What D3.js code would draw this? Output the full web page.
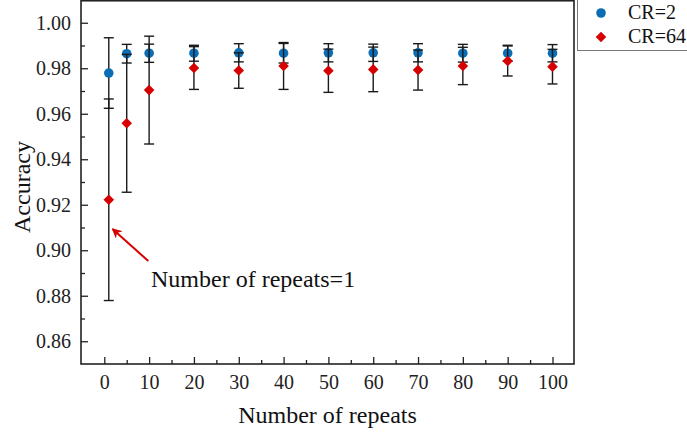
<!DOCTYPE html>
<html>
<head>
<meta charset="utf-8">
<script src="https://cdn.jsdelivr.net/npm/d3@7"></script>
<style>
  body { margin: 0; background: #fff; }
  svg { display: block; }
  svg text { font-family: "Liberation Serif", "Times New Roman", serif; }
</style>
</head>
<body>
<svg id="chart" width="687" height="436"></svg>
<script>
const repeats = [1, 5, 10, 20, 30, 40, 50, 60, 70, 80, 90, 100]
const cr2 = [0.9779, 0.9864, 0.9866, 0.9866, 0.9868, 0.9866, 0.9868, 0.9868, 0.9868, 0.9866, 0.9866, 0.9866]
const cr2Err = [0.0155, 0.0041, 0.0040, 0.0035, 0.0040, 0.0043, 0.0040, 0.0038, 0.0040, 0.0039, 0.0035, 0.0038]
const cr64 = [0.9222, 0.9558, 0.9704, 0.9801, 0.9790, 0.9810, 0.9789, 0.9795, 0.9792, 0.9810, 0.9832, 0.9807]
const cr64Err = [0.0443, 0.0303, 0.0237, 0.0094, 0.0078, 0.0103, 0.0095, 0.0098, 0.0088, 0.0082, 0.0066, 0.0076]
const xTicks = [0, 10, 20, 30, 40, 50, 60, 70, 80, 90, 100]
const yTicks = [0.86, 0.88, 0.90, 0.92, 0.94, 0.96, 0.98, 1.00]
const seriesNames = ['CR=2', 'CR=64']

const margin = { top: 0, right: 113, bottom: 72, left: 81 }
const width = 687 - margin.left - margin.right
const height = 436 - margin.top - margin.bottom
const blue = '#0b6db3'
const red = '#d60000'

const svg = d3.select('#chart')
const g = svg.append('g').attr('transform', `translate(${margin.left},${margin.top})`)

const x = d3.scaleLinear().domain([-5.2, 104.8]).range([0, width])
const y = d3.scaleLinear().domain([0.85, 1.01]).range([height, 0])

// axes, ticks inward
const xAxis = d3.axisBottom(x).tickValues(xTicks).tickSizeInner(-7).tickSizeOuter(0).tickPadding(11)
const xMinor = d3.axisBottom(x).tickValues(d3.range(5, 105, 10)).tickSize(-4).tickFormat('')
const yAxis = d3.axisLeft(y).tickValues(yTicks).tickFormat(d3.format('.2f')).tickSizeInner(-7).tickSizeOuter(0).tickPadding(10)
const yMinor = d3.axisLeft(y).tickValues([0.87, 0.89, 0.91, 0.93, 0.95, 0.97, 0.99]).tickSize(-4).tickFormat('')

function styleAxis(sel) {
  sel.attr('font-family', null).attr('font-size', null)
  sel.select('.domain').remove()
  sel.selectAll('line').attr('stroke', '#222').attr('stroke-width', 1.3)
  sel.selectAll('text').attr('fill', '#222').style('font-size', '20px')
}

g.append('g').attr('transform', `translate(0,${height})`).call(xAxis).call(styleAxis)
g.append('g').attr('transform', `translate(0,${height})`).call(xMinor).call(styleAxis)
g.append('g').call(yAxis).call(styleAxis)
g.append('g').call(yMinor).call(styleAxis)

// frame
g.append('rect')
  .attr('x', 0).attr('y', 0.75)
  .attr('width', width).attr('height', height - 0.75)
  .attr('fill', 'none').attr('stroke', '#222').attr('stroke-width', 1.6)

function drawSeries(vals, errs, color, shape) {
  const data = repeats.map((r, i) => ({ r, v: vals[i], e: errs[i] }))
  const eb = g.append('g').attr('stroke', '#1a1a1a').attr('stroke-width', 1.4)
  data.forEach(d => {
    const cx = x(d.r)
    eb.append('line').attr('x1', cx).attr('x2', cx).attr('y1', y(d.v - d.e)).attr('y2', y(d.v + d.e))
    eb.append('line').attr('x1', cx - 5).attr('x2', cx + 5).attr('y1', y(d.v - d.e)).attr('y2', y(d.v - d.e))
    eb.append('line').attr('x1', cx - 5).attr('x2', cx + 5).attr('y1', y(d.v + d.e)).attr('y2', y(d.v + d.e))
  })
  g.append('g').selectAll('path')
    .data(data)
    .enter().append('path')
      .attr('d', d3.symbol().type(shape).size(shape === d3.symbolCircle ? 72 : 56))
      .attr('transform', d => `translate(${x(d.r)},${y(d.v)})` + (shape === d3.symbolSquare ? ' rotate(45)' : ''))
      .attr('fill', color)
}

drawSeries(cr2, cr2Err, blue, d3.symbolCircle)
drawSeries(cr64, cr64Err, red, d3.symbolSquare)

// annotation
svg.append('defs').append('marker')
  .attr('id', 'arrow').attr('viewBox', '0 0 10 10')
  .attr('refX', 9).attr('refY', 5)
  .attr('markerWidth', 5).attr('markerHeight', 5)
  .attr('orient', 'auto')
  .append('path').attr('d', 'M0,0 L10,5 L0,10 L3,5 Z').attr('fill', red)

g.append('line')
  .attr('x1', 148.3 - margin.left).attr('y1', 261)
  .attr('x2', 112.5 - margin.left).attr('y2', 229)
  .attr('stroke', red).attr('stroke-width', 2)
  .attr('marker-end', 'url(#arrow)')

g.append('text')
  .attr('x', 151 - margin.left).attr('y', 287)
  .attr('font-size', 24).attr('fill', '#111')
  .text('Number of repeats=1')

// axis titles
svg.append('text')
  .attr('x', margin.left + width / 2).attr('y', 423)
  .attr('text-anchor', 'middle').attr('font-size', 24).attr('fill', '#111')
  .text('Number of repeats')

svg.append('text')
  .attr('transform', 'translate(30,187) rotate(-90)')
  .attr('text-anchor', 'middle').attr('font-size', 24).attr('fill', '#111')
  .text('Accuracy')

// legend
const lg = svg.append('g').attr('transform', 'translate(577,0)')
lg.append('rect').attr('x', 0.5).attr('y', -1).attr('width', 120).attr('height', 51.5)
  .attr('fill', '#fff').attr('stroke', '#777').attr('stroke-width', 1)
const lgColors = [blue, red]
const lgShapes = [d3.symbolCircle, d3.symbolSquare]
seriesNames.forEach((name, i) => {
  const cy = 13 + i * 24
  lg.append('path')
    .attr('d', d3.symbol().type(lgShapes[i]).size(i === 0 ? 72 : 56))
    .attr('transform', `translate(24,${cy})` + (i === 1 ? ' rotate(45)' : ''))
    .attr('fill', lgColors[i])
  lg.append('text').attr('x', 51).attr('y', cy + 6)
    .attr('font-size', 20).attr('fill', '#111')
    .text(name)
})
</script>
</body>
</html>
